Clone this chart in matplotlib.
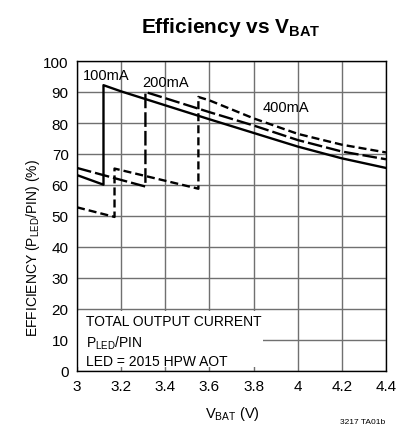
import matplotlib
matplotlib.use("Agg")
import matplotlib.pyplot as plt
from matplotlib import font_manager
from matplotlib.patches import Rectangle

# narrow Helvetica look if available, else plain Liberation Sans
names = {f.name for f in font_manager.fontManager.ttflist}
base = 'Liberation Sans Narrow' if 'Liberation Sans Narrow' in names else 'Liberation Sans'
plt.rcParams['font.family'] = [base, 'DejaVu Sans']
plt.rcParams['mathtext.fontset'] = 'custom'
plt.rcParams['mathtext.rm'] = base
plt.rcParams['mathtext.bf'] = base + ':bold'

# efficiency curves
vbat_100 = [3.0, 3.12, 3.12, 3.2, 3.4, 3.6, 3.8, 4.0, 4.2, 4.4]
eff_100 = [63.2, 60.1, 92.2, 90.2, 85.7, 81.2, 76.8, 72.4, 68.6, 65.5]

vbat_200 = [3.0, 3.31, 3.31, 3.4, 3.6, 3.8, 4.0, 4.2, 4.4]
eff_200 = [65.5, 59.5, 90.0, 88.0, 83.5, 79.2, 74.5, 70.8, 68.3]

vbat_400 = [3.0, 3.17, 3.17, 3.55, 3.55, 3.6, 3.8, 4.0, 4.2, 4.4]
eff_400 = [52.8, 49.7, 65.3, 58.8, 88.4, 87.3, 81.5, 76.5, 73.0, 70.5]

x_ticks = [3, 3.2, 3.4, 3.6, 3.8, 4, 4.2, 4.4]
x_tick_labels = ['3', '3.2', '3.4', '3.6', '3.8', '4', '4.2', '4.4']
y_ticks = list(range(0, 101, 10))

fs = 11 if base == 'Liberation Sans Narrow' else 10

fig = plt.figure(figsize=(4.01, 4.31), dpi=100)
ax = fig.add_axes([77 / 401, 59 / 431, 309 / 401, 310 / 431])

ax.plot(vbat_100, eff_100, color='black', lw=1.7, zorder=3)
ax.plot(vbat_200, eff_200, color='black', lw=1.7, dashes=(6.2, 1.7), zorder=3)
ax.plot(vbat_400, eff_400, color='black', lw=1.7, dashes=(3.4, 1.7), zorder=3)

ax.set_xlim(3, 4.4)
ax.set_ylim(0, 100)
ax.set_xticks(x_ticks)
ax.set_xticklabels(x_tick_labels)
ax.set_yticks(y_ticks)
ax.tick_params(length=0, labelsize=fs + 1, pad=6)
ax.grid(True, color='#707070', lw=1.0, zorder=0)
for s in ax.spines.values():
    s.set_linewidth(1.0)

# white note box over the lower-left grid
ax.add_patch(Rectangle((3.0, 1.2), 0.843, 18.2, facecolor='white',
                       edgecolor='none', zorder=2))
ax.text(3.04, 16.2, 'TOTAL OUTPUT CURRENT', fontsize=fs, va='center', zorder=4)
ax.text(3.04, 9.4, r'P$_{\mathrm{LED}}$/PIN', fontsize=fs, va='center', zorder=4)
ax.text(3.04, 3.3, 'LED = 2015 HPW AOT', fontsize=fs, va='center', zorder=4)

ax.text(3.025, 95.5, '100mA', fontsize=fs + 0.5, va='center', zorder=4)
ax.text(3.295, 93.3, '200mA', fontsize=fs + 0.5, va='center', zorder=4)
ax.text(3.84, 85.0, '400mA', fontsize=fs + 0.5, va='center', zorder=4)

fig.text(231 / 401, 1 - 28 / 431, r'Efficiency vs V$_{\mathbf{BAT}}$',
         fontsize=fs + 5, fontweight='bold', ha='center', va='center')
fig.text(232 / 401, 1 - 414 / 431, r'V$_{\mathrm{BAT}}$ (V)',
         fontsize=fs + 0.5, ha='center', va='center')
fig.text(33 / 401, 1 - 248 / 431, r'EFFICIENCY (P$_{\mathrm{LED}}$/PIN) (%)',
         fontsize=fs, rotation=90, ha='center', va='center')
fig.text(363 / 401, 1 - 423 / 431, '3217 TA01b', fontsize=6, ha='center',
         va='center')

fig.savefig('out.png', dpi=100)
